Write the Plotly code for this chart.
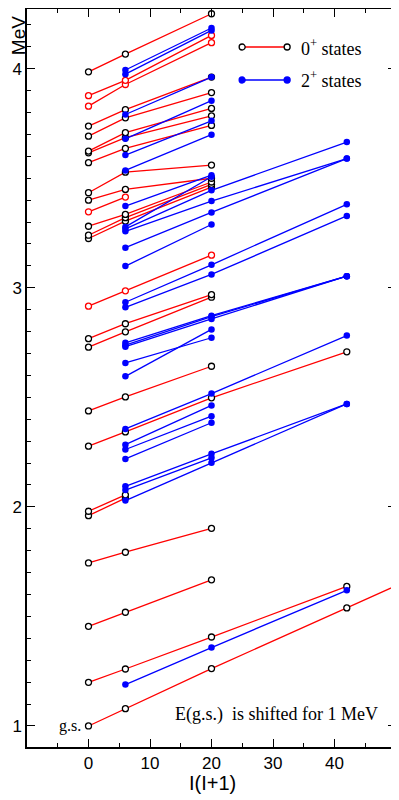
import plotly.graph_objects as go

# I(I+1) for I = 0, 2, 4, 6, 8
spin_x = [0, 6, 20, 42, 72]

# 0+ bands: level energies (MeV) of the I = 0, 2, 4, 6, 8 members (None = not seen)
zero_E0 = [1.000, 1.199, 1.455, 1.744, 1.960, 1.980, 2.277, 2.438, 2.729, 2.768,
           2.916, 3.225, 3.240, 3.281, 3.347, 3.400, 3.434, 3.571, 3.616, 3.624,
           3.692, 3.738, 3.829, 3.877, 3.986]
zero_E2 = [1.079, 1.260, 1.519, 1.793, 2.040, 2.055, 2.342, 2.502, 2.799, 2.836,
           2.986, 3.304, 3.320, 3.335, 3.414, 3.449, 3.528, 3.636, 3.685, 3.708,
           3.776, 3.813, 3.928, 3.947, 4.067]
zero_E4 = [1.262, 1.406, 1.667, 1.902, None, None, 2.498, 2.642, 2.957, 2.969,
           3.149, 3.460, 3.472, 3.483, None, 3.500, 3.560, 3.741, 3.785, 3.819,
           3.891, 3.962, 4.119, 4.152, 4.251]
zero_E6 = [1.539, 1.637, None, None, None, None, 2.708, None, None, None,
           None, None, None, None, None, None, None, None, None, None,
           None, None, None, None, None]
zero_E8 = [1.917] + [None] * 24
# 0+ bands whose levels are marked in red
zero_red = [10, 14, 22, 23]

# 2+ bands: level energies (MeV) of the I = 2, 4, 6 members
two_E2 = [1.189, 2.029, 2.077, 2.094, 2.219, 2.262, 2.284, 2.356, 2.596, 2.657,
          2.731, 2.738, 2.749, 2.911, 2.934, 3.099, 3.183, 3.258, 3.269, 3.278,
          3.373, 3.536, 3.606, 3.680, 3.791, 3.975, 3.994]
two_E4 = [1.358, 2.201, 2.224, 2.242, 2.384, 2.414, 2.463, 2.517, 2.810, 2.772,
          2.858, 2.868, 2.873, 3.061, 3.105, 3.289, 3.344, 3.396, 3.445, 3.507,
          3.514, 3.699, 3.762, 3.854, 3.962, 4.175, 4.186]
two_E6 = [1.619, 2.470, None, 2.470, None, None, None, 2.782, None, None,
          3.053, 3.053, 3.053, 3.328, 3.381, None, 3.590, 3.590, 3.665, None,
          None, None, None, None, None, None, None]

RED = '#ff0000'
BLUE = '#0000ff'
SERIF = 'Liberation Serif'
SANS = 'Liberation Sans'

fig = go.Figure()

# 0+ bands (red lines, open circles)
for i in range(len(zero_E0)):
    ys = [zero_E0[i], zero_E2[i], zero_E4[i], zero_E6[i], zero_E8[i]]
    xs = [x for x, y in zip(spin_x, ys) if y is not None]
    ys = [y for y in ys if y is not None]
    edge = RED if i in zero_red else 'black'
    fig.add_trace(go.Scatter(
        x=xs, y=ys, mode='lines+markers',
        line=dict(color=RED, width=1.3),
        marker=dict(size=6, color='white', line=dict(color=edge, width=1.3)),
        hoverinfo='x+y'
    ))

# 2+ bands (blue lines, filled circles)
for i in range(len(two_E2)):
    ys = [two_E2[i], two_E4[i], two_E6[i]]
    xs = [x for x, y in zip(spin_x[1:4], ys) if y is not None]
    ys = [y for y in ys if y is not None]
    fig.add_trace(go.Scatter(
        x=xs, y=ys, mode='lines+markers',
        line=dict(color=BLUE, width=1.3),
        marker=dict(size=6.5, color=BLUE, line=dict(width=0)),
        hoverinfo='x+y'
    ))

# hand-drawn legend in the upper right corner
legend_rows = [(0.9485, RED, 'white', 'black', '0<sup>+</sup> states'),
               (0.9038, BLUE, BLUE, BLUE, '2<sup>+</sup> states')]
shapes = []
annotations = []
for yp, lc, fill, edge, label in legend_rows:
    shapes.append(dict(type='line', xref='paper', yref='paper',
                       x0=0.583, x1=0.705, y0=yp, y1=yp,
                       line=dict(color=lc, width=1.3)))
    for xp in (0.583, 0.705):
        shapes.append(dict(type='circle', xref='paper', yref='paper',
                           xsizemode='pixel', ysizemode='pixel',
                           xanchor=xp, yanchor=yp,
                           x0=-3, x1=3, y0=-3, y1=3,
                           fillcolor=fill, line=dict(color=edge, width=1.3)))
    annotations.append(dict(xref='paper', yref='paper', x=0.738, y=yp,
                            text=label, showarrow=False, xanchor='left',
                            yanchor='middle',
                            font=dict(family=SERIF, size=18, color='black')))

annotations += [
    dict(x=0, y=zero_E0[0], text='g.s.', showarrow=False, xanchor='right',
         yanchor='middle', xshift=-6, font=dict(family=SERIF, size=16, color='black')),
    dict(xref='paper', yref='paper', x=0.957, y=0.0447,
         text='E(g.s.)\u00a0 is shifted for 1 MeV', showarrow=False,
         xanchor='right', yanchor='middle',
         font=dict(family=SERIF, size=18, color='black')),
    dict(xref='paper', yref='paper', x=-0.024, y=0.9634, text='MeV',
         showarrow=False, textangle=-90, xanchor='center', yanchor='middle',
         borderpad=0, font=dict(family=SANS, size=19, color='black')),
    dict(xref='paper', yref='paper', x=0.503, y=-0.0488, text='I(I+1)',
         showarrow=False, xanchor='center', yanchor='middle',
         font=dict(family=SANS, size=20, color='black')),
]

axis_common = dict(showgrid=False, zeroline=False, showline=True,
                   linecolor='black', linewidth=1.5, mirror='ticks',
                   ticks='inside', ticklen=8, tickwidth=1.2, tickcolor='black',
                   automargin=False,
                   tickfont=dict(family=SANS, size=17, color='black'))

# the page body adds an 8 px margin, so the figure is sized to fit inside it
fig.update_layout(
    width=391, height=792,
    showlegend=False,
    plot_bgcolor='white', paper_bgcolor='white',
    margin=dict(l=19, r=3, t=1, b=53),
    xaxis=dict(range=[-10, 50], tickvals=[0, 10, 20, 30, 40],
               minor=dict(ticks='inside', ticklen=4, tickcolor='black',
                          tickwidth=1.2, dtick=5, tick0=-10),
               **axis_common),
    yaxis=dict(range=[0.904, 4.2726], tickvals=[1, 2, 3, 4],
               minor=dict(ticks='inside', ticklen=4, tickcolor='black',
                          tickwidth=1.2, dtick=0.1, tick0=0.9),
               **axis_common),
    shapes=shapes,
    annotations=annotations,
)

fig.write_html("out.html")
